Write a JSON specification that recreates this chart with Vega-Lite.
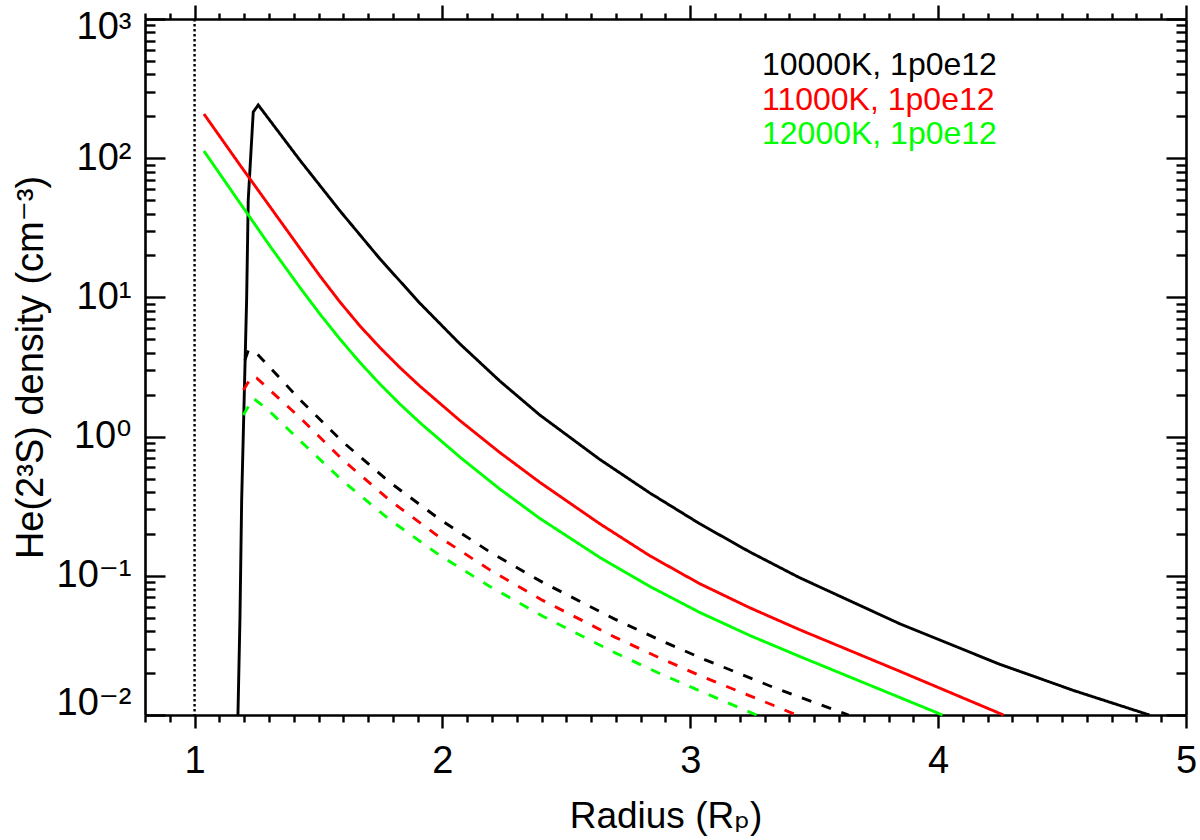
{
  "$schema": "https://vega.github.io/schema/vega-lite/v6.json",
  "width": 1041,
  "height": 696,
  "autosize": {"type": "none"},
  "padding": {"left": 145, "top": 19, "right": 14, "bottom": 125},
  "background": "white",
  "config": {
    "view": {"stroke": null},
    "axis": {
      "grid": false,
      "domainColor": "black",
      "tickColor": "black",
      "labelColor": "black",
      "titleColor": "black",
      "domainWidth": 2.6,
      "tickWidth": 2.4,
      "labelFont": "Liberation Sans, DejaVu Sans",
      "titleFont": "Liberation Sans, DejaVu Sans",
      "titleFontWeight": "normal"
    }
  },
  "data": {
    "values": [
      {"model": "10000K, 1p0e12", "kind": "solid", "r": 1.175, "n": 0.01},
      {"model": "10000K, 1p0e12", "kind": "solid", "r": 1.183, "n": 0.04814},
      {"model": "10000K, 1p0e12", "kind": "solid", "r": 1.19, "n": 0.3504},
      {"model": "10000K, 1p0e12", "kind": "solid", "r": 1.21, "n": 9.578},
      {"model": "10000K, 1p0e12", "kind": "solid", "r": 1.2165, "n": 50.08},
      {"model": "10000K, 1p0e12", "kind": "solid", "r": 1.2367, "n": 214.7},
      {"model": "10000K, 1p0e12", "kind": "solid", "r": 1.2569, "n": 241.1},
      {"model": "10000K, 1p0e12", "kind": "solid", "r": 1.425, "n": 96.75},
      {"model": "10000K, 1p0e12", "kind": "solid", "r": 1.5863, "n": 41.9},
      {"model": "10000K, 1p0e12", "kind": "solid", "r": 1.7476, "n": 18.94},
      {"model": "10000K, 1p0e12", "kind": "solid", "r": 1.9089, "n": 9.085},
      {"model": "10000K, 1p0e12", "kind": "solid", "r": 2.0702, "n": 4.642},
      {"model": "10000K, 1p0e12", "kind": "solid", "r": 2.2315, "n": 2.508},
      {"model": "10000K, 1p0e12", "kind": "solid", "r": 2.3927, "n": 1.4295},
      {"model": "10000K, 1p0e12", "kind": "solid", "r": 2.6347, "n": 0.6859},
      {"model": "10000K, 1p0e12", "kind": "solid", "r": 2.8363, "n": 0.3941},
      {"model": "10000K, 1p0e12", "kind": "solid", "r": 3.0379, "n": 0.2367},
      {"model": "10000K, 1p0e12", "kind": "solid", "r": 3.2395, "n": 0.1485},
      {"model": "10000K, 1p0e12", "kind": "solid", "r": 3.4411, "n": 0.0969},
      {"model": "10000K, 1p0e12", "kind": "solid", "r": 3.8444, "n": 0.04529},
      {"model": "10000K, 1p0e12", "kind": "solid", "r": 4.2476, "n": 0.02317},
      {"model": "10000K, 1p0e12", "kind": "solid", "r": 4.55, "n": 0.01493},
      {"model": "10000K, 1p0e12", "kind": "solid", "r": 4.8524, "n": 0.01},
      {"model": "11000K, 1p0e12", "kind": "solid", "r": 1.0379, "n": 207.7},
      {"model": "11000K, 1p0e12", "kind": "solid", "r": 1.1831, "n": 89.38},
      {"model": "11000K, 1p0e12", "kind": "solid", "r": 1.304, "n": 44.91},
      {"model": "11000K, 1p0e12", "kind": "solid", "r": 1.425, "n": 22.53},
      {"model": "11000K, 1p0e12", "kind": "solid", "r": 1.5056, "n": 14.27},
      {"model": "11000K, 1p0e12", "kind": "solid", "r": 1.5863, "n": 9.283},
      {"model": "11000K, 1p0e12", "kind": "solid", "r": 1.6669, "n": 6.241},
      {"model": "11000K, 1p0e12", "kind": "solid", "r": 1.7476, "n": 4.366},
      {"model": "11000K, 1p0e12", "kind": "solid", "r": 1.8282, "n": 3.136},
      {"model": "11000K, 1p0e12", "kind": "solid", "r": 1.9089, "n": 2.306},
      {"model": "11000K, 1p0e12", "kind": "solid", "r": 2.0702, "n": 1.3052},
      {"model": "11000K, 1p0e12", "kind": "solid", "r": 2.2315, "n": 0.7688},
      {"model": "11000K, 1p0e12", "kind": "solid", "r": 2.3927, "n": 0.4696},
      {"model": "11000K, 1p0e12", "kind": "solid", "r": 2.6347, "n": 0.2367},
      {"model": "11000K, 1p0e12", "kind": "solid", "r": 2.8363, "n": 0.1394},
      {"model": "11000K, 1p0e12", "kind": "solid", "r": 3.0379, "n": 0.08776},
      {"model": "11000K, 1p0e12", "kind": "solid", "r": 3.2395, "n": 0.059},
      {"model": "11000K, 1p0e12", "kind": "solid", "r": 3.4411, "n": 0.041},
      {"model": "11000K, 1p0e12", "kind": "solid", "r": 3.8444, "n": 0.02064},
      {"model": "11000K, 1p0e12", "kind": "solid", "r": 4.2637, "n": 0.01},
      {"model": "12000K, 1p0e12", "kind": "solid", "r": 1.0379, "n": 112.6},
      {"model": "12000K, 1p0e12", "kind": "solid", "r": 1.1831, "n": 47.66},
      {"model": "12000K, 1p0e12", "kind": "solid", "r": 1.304, "n": 23.4},
      {"model": "12000K, 1p0e12", "kind": "solid", "r": 1.425, "n": 11.78},
      {"model": "12000K, 1p0e12", "kind": "solid", "r": 1.5056, "n": 7.6},
      {"model": "12000K, 1p0e12", "kind": "solid", "r": 1.5863, "n": 5.024},
      {"model": "12000K, 1p0e12", "kind": "solid", "r": 1.6669, "n": 3.413},
      {"model": "12000K, 1p0e12", "kind": "solid", "r": 1.7476, "n": 2.387},
      {"model": "12000K, 1p0e12", "kind": "solid", "r": 1.8282, "n": 1.7145},
      {"model": "12000K, 1p0e12", "kind": "solid", "r": 1.9089, "n": 1.2603},
      {"model": "12000K, 1p0e12", "kind": "solid", "r": 2.0702, "n": 0.7137},
      {"model": "12000K, 1p0e12", "kind": "solid", "r": 2.2315, "n": 0.4203},
      {"model": "12000K, 1p0e12", "kind": "solid", "r": 2.3927, "n": 0.2585},
      {"model": "12000K, 1p0e12", "kind": "solid", "r": 2.6347, "n": 0.1356},
      {"model": "12000K, 1p0e12", "kind": "solid", "r": 2.8363, "n": 0.08391},
      {"model": "12000K, 1p0e12", "kind": "solid", "r": 3.0379, "n": 0.05458},
      {"model": "12000K, 1p0e12", "kind": "solid", "r": 3.2395, "n": 0.03731},
      {"model": "12000K, 1p0e12", "kind": "solid", "r": 3.4411, "n": 0.02636},
      {"model": "12000K, 1p0e12", "kind": "solid", "r": 3.8444, "n": 0.01338},
      {"model": "12000K, 1p0e12", "kind": "solid", "r": 4.0177, "n": 0.01},
      {"model": "10000K, 1p0e12", "kind": "dashed", "r": 1.2032, "n": 3.55},
      {"model": "10000K, 1p0e12", "kind": "dashed", "r": 1.2173, "n": 4.189},
      {"model": "10000K, 1p0e12", "kind": "dashed", "r": 1.2504, "n": 3.966},
      {"model": "10000K, 1p0e12", "kind": "dashed", "r": 1.425, "n": 1.845},
      {"model": "10000K, 1p0e12", "kind": "dashed", "r": 1.5984, "n": 0.9146},
      {"model": "10000K, 1p0e12", "kind": "dashed", "r": 1.7879, "n": 0.4689},
      {"model": "10000K, 1p0e12", "kind": "dashed", "r": 1.9895, "n": 0.2542},
      {"model": "10000K, 1p0e12", "kind": "dashed", "r": 2.1911, "n": 0.1485},
      {"model": "10000K, 1p0e12", "kind": "dashed", "r": 2.4048, "n": 0.08966},
      {"model": "10000K, 1p0e12", "kind": "dashed", "r": 2.6952, "n": 0.04887},
      {"model": "10000K, 1p0e12", "kind": "dashed", "r": 2.8766, "n": 0.03457},
      {"model": "10000K, 1p0e12", "kind": "dashed", "r": 3.0581, "n": 0.025},
      {"model": "10000K, 1p0e12", "kind": "dashed", "r": 3.3403, "n": 0.01568},
      {"model": "10000K, 1p0e12", "kind": "dashed", "r": 3.6387, "n": 0.01},
      {"model": "11000K, 1p0e12", "kind": "dashed", "r": 1.1972, "n": 2.161},
      {"model": "11000K, 1p0e12", "kind": "dashed", "r": 1.2315, "n": 2.725},
      {"model": "11000K, 1p0e12", "kind": "dashed", "r": 1.2504, "n": 2.636},
      {"model": "11000K, 1p0e12", "kind": "dashed", "r": 1.425, "n": 1.369},
      {"model": "11000K, 1p0e12", "kind": "dashed", "r": 1.5984, "n": 0.6791},
      {"model": "11000K, 1p0e12", "kind": "dashed", "r": 1.7879, "n": 0.3481},
      {"model": "11000K, 1p0e12", "kind": "dashed", "r": 1.9895, "n": 0.1887},
      {"model": "11000K, 1p0e12", "kind": "dashed", "r": 2.1911, "n": 0.1103},
      {"model": "11000K, 1p0e12", "kind": "dashed", "r": 2.4048, "n": 0.06658},
      {"model": "11000K, 1p0e12", "kind": "dashed", "r": 2.6952, "n": 0.03628},
      {"model": "11000K, 1p0e12", "kind": "dashed", "r": 2.8766, "n": 0.02568},
      {"model": "11000K, 1p0e12", "kind": "dashed", "r": 3.0581, "n": 0.01857},
      {"model": "11000K, 1p0e12", "kind": "dashed", "r": 3.3403, "n": 0.01164},
      {"model": "11000K, 1p0e12", "kind": "dashed", "r": 3.429, "n": 0.01},
      {"model": "12000K, 1p0e12", "kind": "dashed", "r": 1.1964, "n": 1.4295},
      {"model": "12000K, 1p0e12", "kind": "dashed", "r": 1.2367, "n": 1.884},
      {"model": "12000K, 1p0e12", "kind": "dashed", "r": 1.2972, "n": 1.553},
      {"model": "12000K, 1p0e12", "kind": "dashed", "r": 1.425, "n": 0.936},
      {"model": "12000K, 1p0e12", "kind": "dashed", "r": 1.5984, "n": 0.4798},
      {"model": "12000K, 1p0e12", "kind": "dashed", "r": 1.7879, "n": 0.2521},
      {"model": "12000K, 1p0e12", "kind": "dashed", "r": 1.9895, "n": 0.1401},
      {"model": "12000K, 1p0e12", "kind": "dashed", "r": 2.1911, "n": 0.08391},
      {"model": "12000K, 1p0e12", "kind": "dashed", "r": 2.4048, "n": 0.05124},
      {"model": "12000K, 1p0e12", "kind": "dashed", "r": 2.6952, "n": 0.02807},
      {"model": "12000K, 1p0e12", "kind": "dashed", "r": 2.8766, "n": 0.01987},
      {"model": "12000K, 1p0e12", "kind": "dashed", "r": 3.0581, "n": 0.01439},
      {"model": "12000K, 1p0e12", "kind": "dashed", "r": 3.2677, "n": 0.01}
    ]
  },
  "resolve": {"axis": {"x": "independent", "y": "independent"}},
  "layer": [
    {
      "data": {"values": [{}]},
      "mark": {"type": "rule", "color": "black", "strokeWidth": 2.4, "strokeDash": [2.4, 2.6]},
      "encoding": {
        "x": {"datum": 1, "type": "quantitative", "scale": {"domain": [0.8, 5], "nice": false, "zero": false}, "axis": null}
      }
    },
    {
      "mark": {"type": "line", "strokeWidth": 2.9},
      "encoding": {
        "x": {
          "field": "r", "type": "quantitative",
          "scale": {"domain": [0.8, 5], "nice": false, "zero": false},
          "axis": {
            "orient": "bottom", "values": [1, 2, 3, 4, 5], "format": "d",
            "tickSize": 13, "labelFontSize": 38, "labelPadding": 14, "labelFlush": false,
            "title": "Radius (Rₚ)", "titleFontSize": 37, "titlePadding": 18
          }
        },
        "y": {
          "field": "n", "type": "quantitative",
          "scale": {"type": "log", "domain": [0.01, 1000], "nice": false},
          "axis": {
            "orient": "left", "values": [0.01, 0.1, 1, 10, 100, 1000],
            "ticks": false, "labelFontSize": 38, "labelPadding": 14, "labelFlush": false,
            "labelExpr": "datum.value >= 999 ? '10³' : datum.value >= 99 ? '10²' : datum.value >= 9 ? '10¹' : datum.value >= 0.9 ? '10⁰' : datum.value >= 0.09 ? '10⁻¹' : '10⁻²'",
            "labelOffset": {"condition": [{"test": "datum.value >= 999", "value": 8}, {"test": "datum.value <= 0.011", "value": -12}], "value": 0},
            "title": "He(2³S) density (cm⁻³)", "titleFontSize": 38, "titlePadding": 6
          }
        },
        "color": {
          "field": "model", "type": "nominal",
          "scale": {"domain": ["10000K, 1p0e12", "11000K, 1p0e12", "12000K, 1p0e12"], "range": ["#000000", "#ff0000", "#00ff00"]},
          "legend": {
            "orient": "none", "legendX": 585, "legendY": 30, "title": null, "padding": 0,
            "symbolSize": 0, "symbolOpacity": 0, "symbolStrokeWidth": 0,
            "labelFont": "Liberation Sans", "labelFontSize": 32, "labelOffset": 0,
            "rowPadding": 2.5, "labelLimit": 500,
            "encode": {"labels": {"update": {"fill": {"scale": "color", "field": "value"}}}}
          }
        },
        "strokeDash": {
          "field": "kind", "type": "nominal",
          "scale": {"domain": ["solid", "dashed"], "range": [[1, 0], [10, 11]]},
          "legend": null
        }
      }
    },
    {
      "mark": {"type": "point", "opacity": 0},
      "encoding": {
        "x": {
          "field": "r", "type": "quantitative",
          "scale": {"domain": [0.8, 5], "nice": false, "zero": false},
          "axis": {
            "orient": "bottom", "values": [0.8, 0.9, 1.1, 1.2, 1.3, 1.4, 1.5, 1.6, 1.7, 1.8, 1.9, 2.1, 2.2, 2.3, 2.4, 2.5, 2.6, 2.7, 2.8, 2.9, 3.1, 3.2, 3.3, 3.4, 3.5, 3.6, 3.7, 3.8, 3.9, 4.1, 4.2, 4.3, 4.4, 4.5, 4.6, 4.7, 4.8, 4.9],
            "tickSize": 7, "labels": false, "domain": false, "title": null
          }
        },
        "y": {
          "field": "n", "type": "quantitative",
          "scale": {"type": "log", "domain": [0.01, 1000], "nice": false},
          "axis": {
            "orient": "left", "values": [0.01, 0.1, 1, 10, 100, 1000],
            "tickSize": -20, "labels": false, "domain": false, "title": null
          }
        }
      }
    },
    {
      "mark": {"type": "point", "opacity": 0},
      "encoding": {
        "x": {
          "field": "r", "type": "quantitative",
          "scale": {"domain": [0.8, 5], "nice": false, "zero": false},
          "axis": {
            "orient": "top", "values": [1, 2, 3, 4, 5],
            "tickSize": 14, "labels": false, "domain": true, "title": null
          }
        },
        "y": {
          "field": "n", "type": "quantitative",
          "scale": {"type": "log", "domain": [0.01, 1000], "nice": false},
          "axis": {
            "orient": "left", "values": [0.02, 0.03, 0.04, 0.05, 0.06, 0.07, 0.08, 0.09, 0.2, 0.3, 0.4, 0.5, 0.6, 0.7, 0.8, 0.9, 2, 3, 4, 5, 6, 7, 8, 9, 20, 30, 40, 50, 60, 70, 80, 90, 200, 300, 400, 500, 600, 700, 800, 900],
            "tickSize": -10, "labels": false, "domain": false, "title": null
          }
        }
      }
    },
    {
      "mark": {"type": "point", "opacity": 0},
      "encoding": {
        "x": {
          "field": "r", "type": "quantitative",
          "scale": {"domain": [0.8, 5], "nice": false, "zero": false},
          "axis": {
            "orient": "top", "values": [0.8, 0.9, 1.1, 1.2, 1.3, 1.4, 1.5, 1.6, 1.7, 1.8, 1.9, 2.1, 2.2, 2.3, 2.4, 2.5, 2.6, 2.7, 2.8, 2.9, 3.1, 3.2, 3.3, 3.4, 3.5, 3.6, 3.7, 3.8, 3.9, 4.1, 4.2, 4.3, 4.4, 4.5, 4.6, 4.7, 4.8, 4.9],
            "tickSize": 6, "labels": false, "domain": false, "title": null
          }
        },
        "y": {
          "field": "n", "type": "quantitative",
          "scale": {"type": "log", "domain": [0.01, 1000], "nice": false},
          "axis": {
            "orient": "right", "values": [0.01, 0.1, 1, 10, 100, 1000],
            "tickSize": -20, "labels": false, "domain": true, "title": null
          }
        }
      }
    },
    {
      "mark": {"type": "point", "opacity": 0},
      "encoding": {
        "x": {
          "field": "r", "type": "quantitative",
          "scale": {"domain": [0.8, 5], "nice": false, "zero": false},
          "axis": null
        },
        "y": {
          "field": "n", "type": "quantitative",
          "scale": {"type": "log", "domain": [0.01, 1000], "nice": false},
          "axis": {
            "orient": "right", "values": [0.02, 0.03, 0.04, 0.05, 0.06, 0.07, 0.08, 0.09, 0.2, 0.3, 0.4, 0.5, 0.6, 0.7, 0.8, 0.9, 2, 3, 4, 5, 6, 7, 8, 9, 20, 30, 40, 50, 60, 70, 80, 90, 200, 300, 400, 500, 600, 700, 800, 900],
            "tickSize": -10, "labels": false, "domain": false, "title": null
          }
        }
      }
    }
  ]
}
